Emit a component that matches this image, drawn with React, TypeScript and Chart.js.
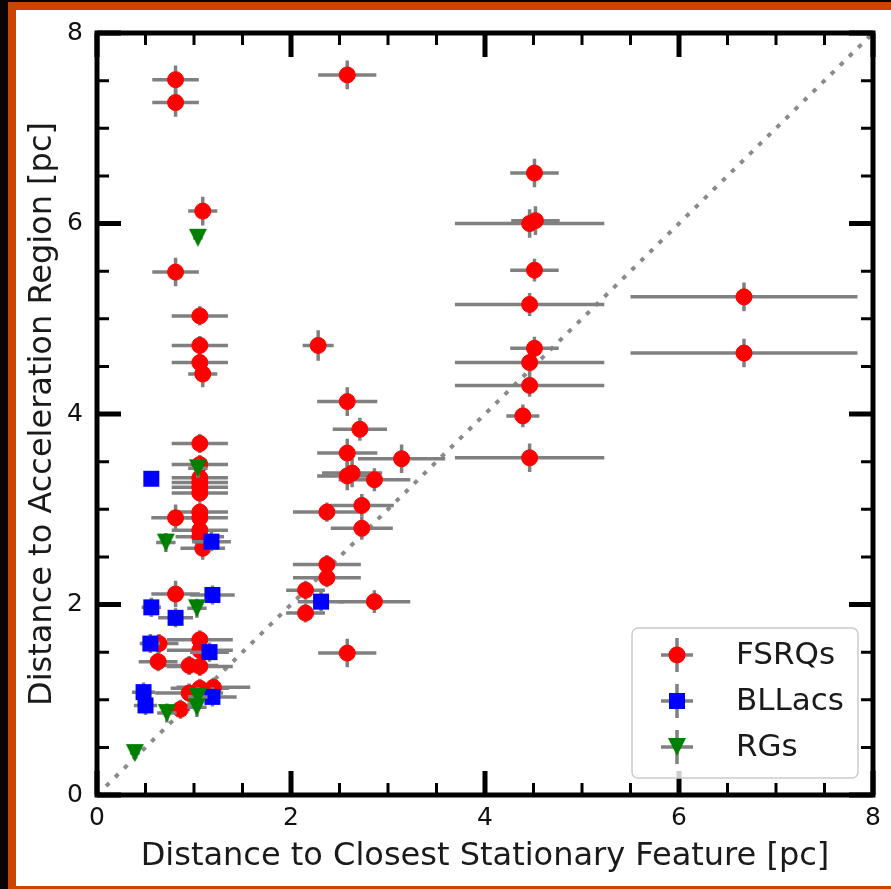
import React, { useEffect, useRef } from 'react';
import { Chart, registerables } from 'chart.js';
Chart.register(...registerables);

// ---------- data ----------
const fsrqX = [0.81, 0.81, 1.09, 0.81, 1.06, 1.06, 1.06, 1.09, 1.06, 1.06, 1.06, 1.06, 1.06, 1.06, 1.06, 0.81, 1.06, 1.06, 1.06, 1.09, 0.81, 1.06, 0.64, 1.06, 0.63, 0.95, 1.06, 1.06, 1.2, 0.95, 0.86,
  2.58, 2.28, 2.58, 2.71, 2.58, 3.14, 2.58, 2.63, 2.86, 2.73, 2.37, 2.73, 2.37, 2.37, 2.15, 2.86, 2.15, 2.58,
  4.51, 4.52, 4.46, 4.51, 4.46, 4.51, 4.46, 4.46, 4.39, 4.46, 6.67, 6.67];
const fsrqY = [7.51, 7.27, 6.13, 5.49, 5.03, 4.72, 4.54, 4.42, 3.69, 3.47, 3.33, 3.28, 3.23, 3.17, 2.97, 2.91, 2.91, 2.78, 2.71, 2.59, 2.11, 1.63, 1.59, 1.52, 1.4, 1.36, 1.35, 1.12, 1.13, 1.07, 0.9,
  7.56, 4.72, 4.13, 3.84, 3.59, 3.53, 3.35, 3.38, 3.31, 3.04, 2.97, 2.8, 2.42, 2.28, 2.15, 2.03, 1.91, 1.49,
  6.53, 6.03, 6.0, 5.51, 5.15, 4.69, 4.54, 4.3, 3.98, 3.54, 5.23, 4.64];
const fsrqXErr = [0.24, 0.24, 0.15, 0.24, 0.29, 0.29, 0.29, 0.15, 0.29, 0.29, 0.29, 0.29, 0.29, 0.29, 0.29, 0.25, 0.29, 0.29, 0.25, 0.23, 0.25, 0.34, 0.2, 0.34, 0.2, 0.3, 0.34, 0.3, 0.38, 0.35, 0.1,
  0.3, 0.16, 0.31, 0.28, 0.31, 0.45, 0.31, 0.31, 0.37, 0.33, 0.35, 0.32, 0.35, 0.35, 0.2, 0.37, 0.2, 0.3,
  0.25, 0.25, 0.77, 0.25, 0.77, 0.25, 0.77, 0.77, 0.17, 0.77, 1.17, 1.17];
const fsrqYErr = [0.15, 0.15, 0.15, 0.15, 0.1, 0.1, 0.1, 0.14, 0.1, 0.1, 0.1, 0.1, 0.1, 0.1, 0.1, 0.14, 0.1, 0.1, 0.1, 0.12, 0.14, 0.1, 0.1, 0.1, 0.1, 0.1, 0.1, 0.1, 0.1, 0.1, 0.1,
  0.15, 0.16, 0.15, 0.12, 0.15, 0.15, 0.15, 0.15, 0.12, 0.12, 0.1, 0.12, 0.1, 0.1, 0.1, 0.12, 0.1, 0.15,
  0.15, 0.15, 0.15, 0.12, 0.12, 0.12, 0.12, 0.12, 0.12, 0.15, 0.15, 0.15];

const bllacX = [0.56, 1.18, 1.19, 0.56, 0.81, 0.55, 1.16, 0.48, 0.5, 1.19, 2.31];
const bllacY = [3.32, 2.66, 2.1, 1.97, 1.86, 1.59, 1.5, 1.08, 0.94, 1.03, 2.03];
const bllacXErr = [0.05, 0.2, 0.23, 0.1, 0.18, 0.1, 0.2, 0.12, 0.12, 0.25, 0.24];
const bllacYErr = [0.05, 0.1, 0.1, 0.1, 0.1, 0.1, 0.1, 0.1, 0.1, 0.1, 0.1];

const rgX = [1.04, 1.04, 0.71, 1.03, 1.04, 1.03, 0.72, 0.39];
const rgY = [5.85, 3.43, 2.65, 1.96, 1.03, 0.92, 0.86, 0.44];
const rgXErr = [0.05, 0.1, 0.1, 0.1, 0.1, 0.1, 0.1, 0.05];
const rgYErr = [0.05, 0.1, 0.1, 0.1, 0.1, 0.1, 0.1, 0.05];

const oneToOne = [0, 8];
const axisMin = 0;
const axisMax = 8;
const majorStep = 2;
const minorStep = 0.5;

const seriesLabels = ['FSRQs', 'BLLacs', 'RGs'];
const xTitle = 'Distance to Closest Stationary Feature [pc]';
const yTitle = 'Distance to Acceleration Region [pc]';

const FONT = "'DejaVu Sans', sans-serif";
const ERR_COLOR = '#808080';
const RED = '#ff0000';
const BLUE = '#0000ff';
const GREEN = '#008000';

function pts(xs: number[], ys: number[]) {
  return xs.map((x, i) => ({ x, y: ys[i] }));
}

function makeTriangle(color: string, w: number, h: number) {
  const c = document.createElement('canvas');
  c.width = w + 2;
  c.height = h + 2;
  const g = c.getContext('2d')!;
  g.fillStyle = color;
  g.beginPath();
  g.moveTo(1, 1);
  g.lineTo(w + 1, 1);
  g.lineTo(w / 2 + 1, h + 1);
  g.closePath();
  g.fill();
  return c;
}

const backgroundPlugin = {
  id: 'bgFrame',
  beforeDraw(chart: any) {
    const { ctx, width, height } = chart;
    ctx.save();
    ctx.fillStyle = '#0a0505';
    ctx.fillRect(0, 0, width, height);
    ctx.fillStyle = '#cc4400';
    ctx.fillRect(8, 2, width - 8, height - 2);
    ctx.fillStyle = '#ffffff';
    ctx.fillRect(16, 10, width - 16, height - 13);
    ctx.restore();
  },
};

const errorBarPlugin = {
  id: 'errorBars',
  beforeDatasetDraw(chart: any, args: any) {
    const ds = chart.data.datasets[args.index];
    if (!ds.xErr) return;
    const xs = chart.scales.x;
    const ys = chart.scales.y;
    const ctx = chart.ctx;
    ctx.save();
    ctx.strokeStyle = ERR_COLOR;
    ctx.lineWidth = 3.5;
    ctx.lineCap = 'butt';
    ds.data.forEach((p: any, i: number) => {
      const px = xs.getPixelForValue(p.x);
      const py = ys.getPixelForValue(p.y);
      const x0 = xs.getPixelForValue(p.x - ds.xErr[i]);
      const x1 = xs.getPixelForValue(p.x + ds.xErr[i]);
      const y0 = ys.getPixelForValue(p.y - ds.yErr[i]);
      const y1 = ys.getPixelForValue(p.y + ds.yErr[i]);
      ctx.beginPath();
      ctx.moveTo(x0, py);
      ctx.lineTo(x1, py);
      ctx.moveTo(px, y0);
      ctx.lineTo(px, y1);
      ctx.stroke();
    });
    ctx.restore();
  },
};

const framePlugin = {
  id: 'frameTicks',
  afterDatasetsDraw(chart: any) {
    const { ctx, chartArea: a } = chart;
    const xs = chart.scales.x;
    const ys = chart.scales.y;
    ctx.save();
    ctx.strokeStyle = '#000';
    ctx.lineCap = 'butt';
    const majorLen = 24;
    const minorLen = 12;
    for (let v = axisMin; v <= axisMax + 1e-9; v += minorStep) {
      const isMajor = Math.abs(v / majorStep - Math.round(v / majorStep)) < 1e-6;
      const len = isMajor ? majorLen : minorLen;
      ctx.lineWidth = isMajor ? 5 : 3;
      const px = xs.getPixelForValue(v);
      const py = ys.getPixelForValue(v);
      ctx.beginPath();
      ctx.moveTo(px, a.bottom);
      ctx.lineTo(px, a.bottom - len);
      ctx.moveTo(px, a.top);
      ctx.lineTo(px, a.top + len);
      ctx.moveTo(a.left, py);
      ctx.lineTo(a.left + len, py);
      ctx.moveTo(a.right, py);
      ctx.lineTo(a.right - len, py);
      ctx.stroke();
    }
    ctx.lineWidth = 5;
    ctx.lineJoin = 'miter';
    ctx.strokeRect(a.left, a.top, a.right - a.left, a.bottom - a.top);
    ctx.restore();
  },
};

function drawMarker(ctx: CanvasRenderingContext2D, kind: number, x: number, y: number, tri: HTMLCanvasElement) {
  if (kind === 0) {
    ctx.fillStyle = RED;
    ctx.beginPath();
    ctx.arc(x, y, 8.5, 0, Math.PI * 2);
    ctx.fill();
  } else if (kind === 1) {
    ctx.fillStyle = BLUE;
    ctx.fillRect(x - 8, y - 8, 16, 16);
  } else {
    ctx.drawImage(tri, x - tri.width / 2, y - tri.height / 2);
  }
}

function makeLegendPlugin(tri: HTMLCanvasElement) {
  return {
    id: 'customLegend',
    afterDraw(chart: any) {
      const { ctx, chartArea: a } = chart;
      const w = 226;
      const h = 150;
      const lx = a.right - 15 - w;
      const ly = a.bottom - 17 - h;
      ctx.save();
      ctx.beginPath();
      (ctx as any).roundRect(lx, ly, w, h, 6);
      ctx.fillStyle = 'rgba(255,255,255,0.8)';
      ctx.fill();
      ctx.strokeStyle = '#cccccc';
      ctx.lineWidth = 1.5;
      ctx.stroke();
      const rowH = 46;
      seriesLabels.forEach((lab, i) => {
        const cy = ly + 27 + i * rowH;
        const mx = lx + 45;
        ctx.strokeStyle = ERR_COLOR;
        ctx.lineWidth = 3.5;
        ctx.beginPath();
        ctx.moveTo(mx - 16, cy);
        ctx.lineTo(mx + 16, cy);
        ctx.moveTo(mx, cy - 17);
        ctx.lineTo(mx, cy + 17);
        ctx.stroke();
        drawMarker(ctx, i, mx, cy, tri);
        ctx.fillStyle = '#1a1a1a';
        ctx.font = `31px ${FONT}`;
        ctx.textAlign = 'left';
        ctx.textBaseline = 'middle';
        ctx.fillText(lab, lx + 104, cy + 1);
      });
      ctx.restore();
    },
  };
}

export default function App() {
  const ref = useRef<HTMLCanvasElement | null>(null);
  useEffect(() => {
    document.body.style.margin = '0';
    const tri = makeTriangle(GREEN, 18, 18);
    const chart = new Chart(ref.current!, {
      type: 'scatter',
      data: {
        datasets: [
          {
            label: 'one-to-one',
            data: pts(oneToOne, oneToOne),
            showLine: true,
            borderColor: '#8a8a8a',
            borderWidth: 4,
            borderDash: [4.5, 8.2],
            pointRadius: 0,
            order: 4,
          } as any,
          {
            label: seriesLabels[0],
            data: pts(fsrqX, fsrqY),
            xErr: fsrqXErr,
            yErr: fsrqYErr,
            pointStyle: 'circle',
            pointRadius: 8,
            pointBackgroundColor: RED,
            pointBorderColor: RED,
            pointBorderWidth: 1,
            order: 3,
          } as any,
          {
            label: seriesLabels[1],
            data: pts(bllacX, bllacY),
            xErr: bllacXErr,
            yErr: bllacYErr,
            pointStyle: 'rect',
            pointRadius: 11.3,
            pointBackgroundColor: BLUE,
            pointBorderColor: BLUE,
            pointBorderWidth: 0,
            order: 2,
          } as any,
          {
            label: seriesLabels[2],
            data: pts(rgX, rgY),
            xErr: rgXErr,
            yErr: rgYErr,
            pointStyle: tri,
            pointRadius: 9,
            pointBackgroundColor: GREEN,
            pointBorderColor: GREEN,
            order: 1,
          } as any,
        ],
      },
      options: {
        animation: false,
        responsive: false,
        devicePixelRatio: 1,
        layout: { padding: { top: 33, right: 18, left: 0, bottom: 0 } },
        plugins: { legend: { display: false }, tooltip: { enabled: false } },
        scales: {
          x: {
            type: 'linear',
            min: axisMin,
            max: axisMax,
            ticks: { stepSize: majorStep, font: { family: FONT, size: 25 }, color: '#111', padding: 8 },
            grid: { display: false, drawTicks: false },
            border: { display: false },
            title: {
              display: true,
              text: xTitle,
              font: { family: FONT, size: 32 },
              color: '#1a1a1a',
              padding: { top: 0, bottom: 13 },
            },
            afterFit: (s: any) => {
              s.height = 94;
            },
          },
          y: {
            type: 'linear',
            min: axisMin,
            max: axisMax,
            ticks: { stepSize: majorStep, font: { family: FONT, size: 25 }, color: '#111', padding: 14 },
            grid: { display: false, drawTicks: false },
            border: { display: false },
            title: {
              display: true,
              text: yTitle,
              font: { family: FONT, size: 32 },
              color: '#1a1a1a',
              padding: { top: 23, bottom: 0 },
            },
            afterFit: (s: any) => {
              s.width = 97;
            },
          },
        },
      } as any,
      plugins: [backgroundPlugin, errorBarPlugin, framePlugin, makeLegendPlugin(tri)],
    });
    return () => chart.destroy();
  }, []);
  return (
    <div style={{ width: 891, height: 889 }}>
      <canvas ref={ref} width={891} height={889} style={{ display: 'block' }} />
    </div>
  );
}
